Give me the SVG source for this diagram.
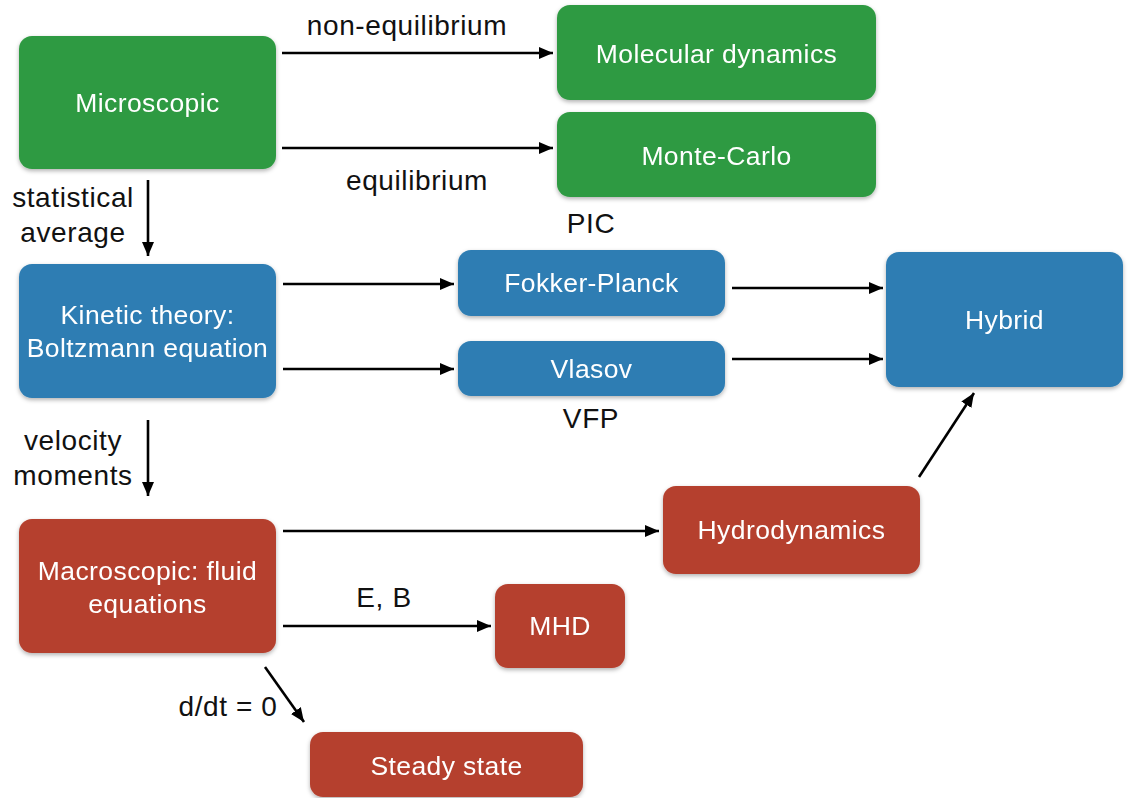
<svg xmlns="http://www.w3.org/2000/svg" width="1135" height="798" viewBox="0 0 1135 798">
<style>
.node rect{rx:13px;ry:13px}
.g rect{fill:#2f9a42}
.b rect{fill:#2e7db3}
.r rect{fill:#b5412f}
.nt{font-family:"Liberation Sans",Arial,sans-serif;font-size:26.5px;letter-spacing:0.4px;fill:#ffffff;text-anchor:middle}
.lb{font-family:"Liberation Sans",Arial,sans-serif;font-size:28px;letter-spacing:0.6px;fill:#111111;text-anchor:middle}
.cn line{stroke:#000;stroke-width:2.6;marker-end:url(#ah)}
</style>
<defs>
<filter id="sh" x="-10%" y="-10%" width="120%" height="130%">
<feDropShadow dx="0" dy="2" stdDeviation="2" flood-color="#000" flood-opacity="0.3"/>
</filter>
<marker id="ah" markerUnits="userSpaceOnUse" markerWidth="14" markerHeight="12" refX="14" refY="6" orient="auto">
<path d="M0,0 L14,6 L0,12 z" fill="#000"/>
</marker>
</defs>
<rect width="1135" height="798" fill="#ffffff"/>
<g id="connectors" class="cn">
<line x1="282" y1="53" x2="553" y2="53"/>
<line x1="282" y1="148" x2="553" y2="148"/>
<line x1="148" y1="180" x2="148" y2="256"/>
<line x1="283" y1="284" x2="454" y2="284"/>
<line x1="283" y1="369" x2="454" y2="369"/>
<line x1="732" y1="288" x2="883" y2="288"/>
<line x1="732" y1="359" x2="883" y2="359"/>
<line x1="919" y1="477" x2="974" y2="393"/>
<line x1="148" y1="420" x2="148" y2="496"/>
<line x1="283" y1="531" x2="659" y2="531"/>
<line x1="283" y1="626" x2="491" y2="626"/>
<line x1="265" y1="667" x2="304" y2="722"/>
</g>
<g id="labels">
<text class="lb" x="407" y="35">non-equilibrium</text>
<text class="lb" x="417" y="190">equilibrium</text>
<text class="lb" x="73" y="207">statistical</text>
<text class="lb" x="73" y="242">average</text>
<text class="lb" x="591" y="233">PIC</text>
<text class="lb" x="591" y="428">VFP</text>
<text class="lb" x="73" y="450">velocity</text>
<text class="lb" x="73" y="485">moments</text>
<text class="lb" x="384" y="607">E, B</text>
<text class="lb" x="228" y="716">d/dt = 0</text>
</g>
<g id="microscopic" class="node g" filter="url(#sh)">
<rect x="19" y="36" width="257" height="133"/>
<text class="nt" x="147.5" y="112">Microscopic</text>
</g>
<g id="molecular-dynamics" class="node g" filter="url(#sh)">
<rect x="557" y="5" width="319" height="95"/>
<text class="nt" x="716.5" y="63">Molecular dynamics</text>
</g>
<g id="monte-carlo" class="node g" filter="url(#sh)">
<rect x="557" y="112" width="319" height="85"/>
<text class="nt" x="716.5" y="165">Monte-Carlo</text>
</g>
<g id="kinetic" class="node b" filter="url(#sh)">
<rect x="19" y="264" width="257" height="134"/>
<text class="nt" x="147.5" y="324">Kinetic theory:</text>
<text class="nt" x="147.5" y="357">Boltzmann equation</text>
</g>
<g id="fokker-planck" class="node b" filter="url(#sh)">
<rect x="458" y="250" width="267" height="66"/>
<text class="nt" x="591.5" y="292">Fokker-Planck</text>
</g>
<g id="vlasov" class="node b" filter="url(#sh)">
<rect x="458" y="341" width="267" height="55"/>
<text class="nt" x="591.5" y="378">Vlasov</text>
</g>
<g id="hybrid" class="node b" filter="url(#sh)">
<rect x="886" y="252" width="237" height="135"/>
<text class="nt" x="1004.5" y="329">Hybrid</text>
</g>
<g id="macroscopic" class="node r" filter="url(#sh)">
<rect x="19" y="519" width="257" height="134"/>
<text class="nt" x="147.5" y="580">Macroscopic: fluid</text>
<text class="nt" x="147.5" y="613">equations</text>
</g>
<g id="hydrodynamics" class="node r" filter="url(#sh)">
<rect x="663" y="486" width="257" height="88"/>
<text class="nt" x="791.5" y="539">Hydrodynamics</text>
</g>
<g id="mhd" class="node r" filter="url(#sh)">
<rect x="495" y="584" width="130" height="84"/>
<text class="nt" x="560" y="635">MHD</text>
</g>
<g id="steady-state" class="node r" filter="url(#sh)">
<rect x="310" y="732" width="273" height="65"/>
<text class="nt" x="446.5" y="775">Steady state</text>
</g>
</svg>
